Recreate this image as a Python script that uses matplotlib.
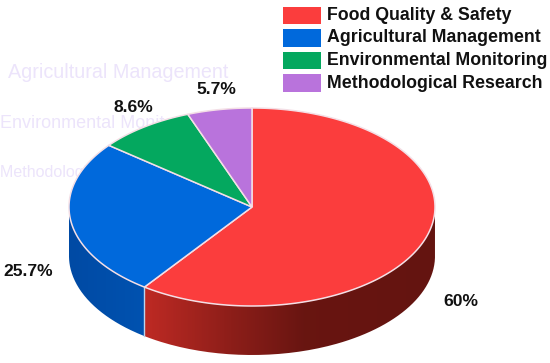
import matplotlib
matplotlib.use('Agg')
import matplotlib.pyplot as plt
import numpy as np
from matplotlib.patches import Rectangle, PathPatch
from matplotlib.path import Path

plt.rcParams['font.family'] = ['Liberation Sans', 'DejaVu Sans']

categories = ['Food Quality & Safety', 'Agricultural Management',
              'Environmental Monitoring', 'Methodological Research']
shares = [60, 25.7, 8.6, 5.7]
share_labels = ['60%', '25.7%', '8.6%', '5.7%']
top_colors = ['#fb3d3d', '#0069dc', '#04a85f', '#b973dc']

# faint leftovers in the picture background
ghost_lines = ['Agricultural Management', 'Environmental Monitoring', 'Methodological Research']

W, H = 550, 363
cx, cy, rx, ry = 252, 207, 183, 99
depth = 49


def rim(a):
    return cx + rx * np.cos(a), cy - ry * np.sin(a)


def side_path(a0, a1):
    a = np.linspace(a0, a1, 120)
    x, y = rim(a)
    xs = np.r_[x, x[::-1], x[0]]
    ys = np.r_[y, y[::-1] + depth, y[0]]
    return Path(np.c_[xs, ys])


fig = plt.figure(figsize=(W / 100, H / 100), dpi=100)
ax = fig.add_axes([0, 0, 1, 1])
ax.set_xlim(0, W)
ax.set_ylim(H, 0)
ax.axis('off')

# slice angles, clockwise from 12 o'clock
edges = np.radians(90 - 3.6 * np.cumsum([0] + shares))

for txt, (x, y, s) in zip(ghost_lines, [(8, 73, 14.2), (0, 124, 13), (0, 172, 11.5)]):
    ax.text(x, y, txt, fontsize=s, color='#ece4fb', va='center', ha='left', zorder=1)

# side wall, only the front part of red and blue shows
red_grad = np.interp(np.linspace(0, 1, 300), [0, 0.3, 0.55, 1], [0, 0.55, 0.95, 1])
c0, c1 = np.array([190, 42, 36]), np.array([100, 20, 16])
red_img = (c0 + (c1 - c0) * red_grad[:, None]) / 255
im = ax.imshow(red_img[None, :, :], extent=[144, 435, cy + 160, cy - 10], aspect='auto', zorder=2)
im.set_clip_path(PathPatch(side_path(edges[1], 0), transform=ax.transData))

b0, b1 = np.array([0, 82, 176]), np.array([0, 74, 164])
blue_img = (b1 + (b0 - b1) * np.linspace(0, 1, 80)[:, None]) / 255
im2 = ax.imshow(blue_img[None, :, :], extent=[69, 144, cy + 160, cy - 10], aspect='auto', zorder=2)
im2.set_clip_path(PathPatch(side_path(-np.pi, edges[1]), transform=ax.transData))
ax.set_xlim(0, W)
ax.set_ylim(H, 0)

x0, y0 = rim(edges[1])
ax.plot([x0, x0], [y0, y0 + depth], color='#b9d4ee', lw=1, zorder=3)

# top face
for i, col in enumerate(top_colors):
    a = np.linspace(edges[i], edges[i + 1], 200)
    x, y = rim(a)
    ax.fill(np.r_[cx, x], np.r_[cy, y], facecolor=col, edgecolor='#f4dfe6', lw=1.1, zorder=4)

# labels
for txt, (x, y) in zip(share_labels, [(461, 302), (28, 272), (133, 107), (216, 90)]):
    ax.text(x, y, txt, fontsize=12.6, fontweight='bold', color='#111111', ha='center', va='center', zorder=5)

# legend, hand placed like the original
for cat, col, (y0, y1) in zip(categories, top_colors, [(7, 24), (29, 47), (52, 69), (74, 92)]):
    ax.add_patch(Rectangle((283, y0), 38, y1 - y0, facecolor=col, edgecolor='none', zorder=5))
    ax.text(327, (y0 + y1) / 2, cat, fontsize=12.8, fontweight='bold', color='#111111', va='center', ha='left', zorder=5)

fig.savefig('out.png', dpi=100)
